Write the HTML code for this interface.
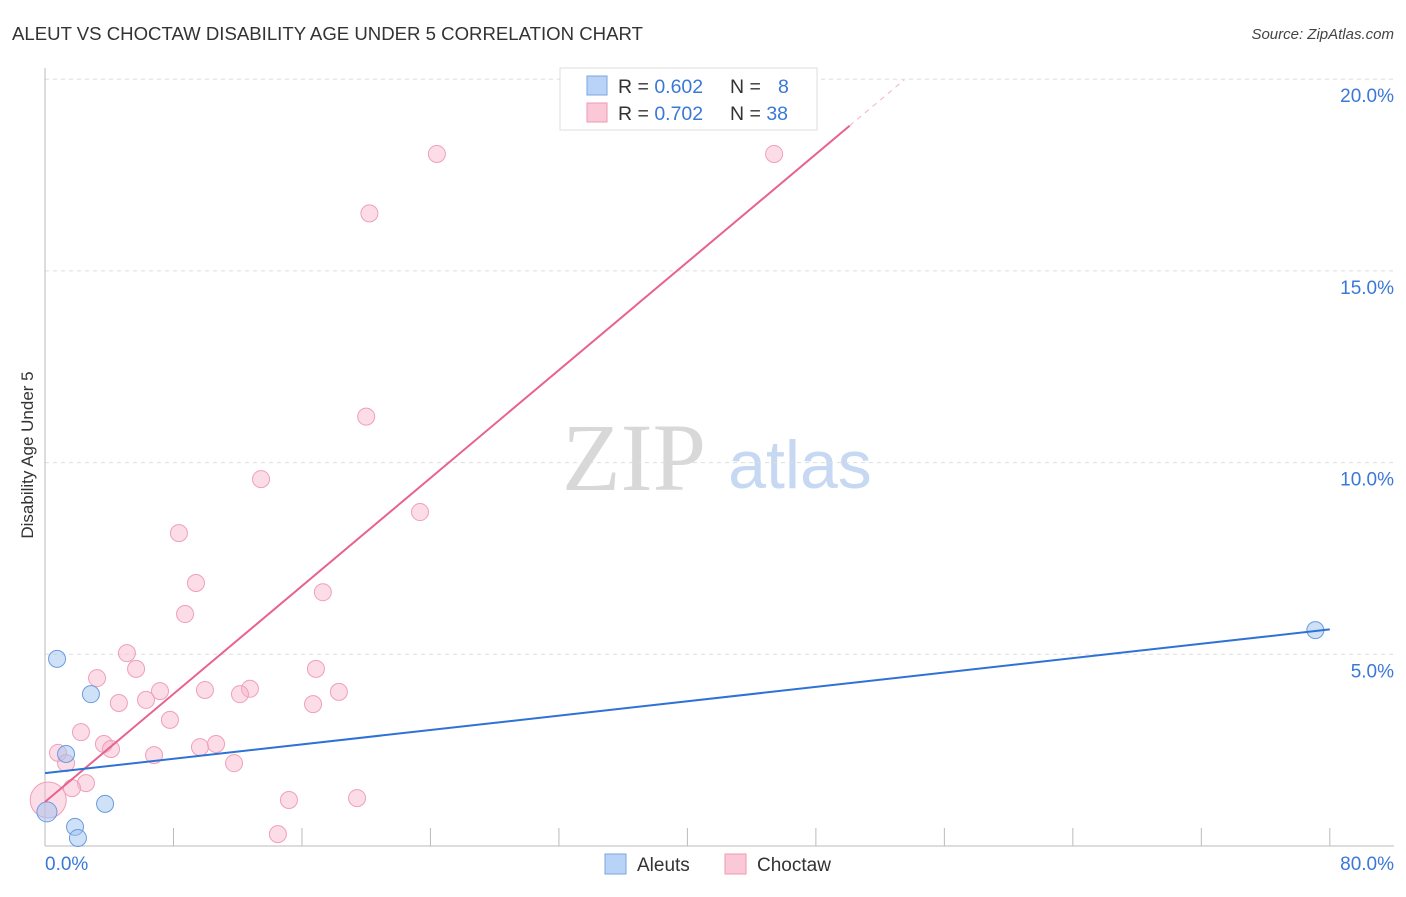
<!DOCTYPE html>
<html><head><meta charset="utf-8"><style>
body{margin:0;background:#fff;font-family:"Liberation Sans",sans-serif;}
</style></head><body>
<svg id="chart" width="1406" height="892" font-family="Liberation Sans, sans-serif">
<text x="12" y="40" font-size="18.6" fill="#333">ALEUT VS CHOCTAW DISABILITY AGE UNDER 5 CORRELATION CHART</text>
<text x="1394" y="39" font-size="15" fill="#444" text-anchor="end" font-style="italic">Source: ZipAtlas.com</text>
<text x="634" y="490" font-size="96" fill="#d8d8d8" style="font-family:'Liberation Serif',serif" text-anchor="middle">ZIP</text>
<text x="800" y="488" font-size="68" fill="#c6d8f2" text-anchor="middle">atlas</text>
<text transform="translate(33,455) rotate(-90)" font-size="17" fill="#333" text-anchor="middle">Disability Age Under 5</text>
<g id="grid"></g><g id="marks"></g>
<g>
<rect x="560" y="68" width="257" height="62" fill="#fff" stroke="#ddd"/>
<rect x="587" y="76" width="20" height="19" fill="#b8d3f5" stroke="#7aa6e0"/>
<rect x="587" y="103" width="20" height="19" fill="#fbc8d8" stroke="#ee9ab5"/>
<text x="618" y="93" font-size="19.5" fill="#333">R = <tspan fill="#3a78d8">0.602</tspan></text>
<text x="730" y="93" font-size="19.5" fill="#333">N = <tspan x="778" fill="#3a78d8">8</tspan></text>
<text x="618" y="120" font-size="19.5" fill="#333">R = <tspan fill="#3a78d8">0.702</tspan></text>
<text x="730" y="120" font-size="19.5" fill="#333">N = <tspan fill="#3a78d8">38</tspan></text>
</g>
<g>
<rect x="605" y="854" width="21" height="20" fill="#b8d3f5" stroke="#7aa6e0"/>
<text x="637" y="871" font-size="19" fill="#333">Aleuts</text>
<rect x="725" y="854" width="21" height="20" fill="#fbc8d8" stroke="#ee9ab5"/>
<text x="757" y="871" font-size="19" fill="#333">Choctaw</text>
</g>
</svg>
<script>
const yTicks=[5,10,15,20];
const xTickLabels=["0.0%","80.0%"];
const aleutX=[0.75,2.86,1.31,3.74,1.87,2.05,0.12,79.1];
const aleutY=[4.88,3.96,2.4,1.1,0.5,0.21,0.89,5.63];
const choctawX=[24.4,45.4,20.2,20.0,13.45,23.35,8.34,9.4,17.3,8.72,5.1,5.67,16.87,3.24,7.16,9.96,12.76,12.14,18.3,4.6,6.29,16.69,7.78,2.24,3.67,9.65,10.65,4.11,6.79,0.81,1.31,11.77,2.55,1.68,15.19,19.43,14.5,0.2];
const choctawY=[18.05,18.05,16.5,11.2,9.57,8.71,8.16,6.86,6.62,6.05,5.03,4.62,4.62,4.38,4.04,4.07,4.1,3.96,4.02,3.73,3.81,3.7,3.29,2.97,2.66,2.58,2.66,2.53,2.37,2.43,2.16,2.16,1.64,1.51,1.2,1.25,0.31,1.2];
const aleutLine=[1.9,5.65];
const choctawLine=[1.15,0.352];
const NS="http://www.w3.org/2000/svg";
const X=v=>45+v*16.06, Y=v=>846-v*38.34;
function mk(tag,attrs,parent){const e=document.createElementNS(NS,tag);for(const k in attrs)e.setAttribute(k,attrs[k]);parent.appendChild(e);return e;}
const g=document.getElementById('grid'),m=document.getElementById('marks');
yTicks.forEach(t=>{
 const l=mk('line',{x1:45,x2:1394,y1:Y(t),y2:Y(t),stroke:'#ddd','stroke-dasharray':'4,4'},g);
 
 
 const tx=mk('text',{x:1394,y:Y(t)+23,'font-size':19,fill:'#3a78d8','text-anchor':'end'},g);tx.textContent=t.toFixed(1)+'%';
 
 
});
const ax=mk('line',{x1:45,x2:45,y1:68,y2:846,stroke:'#bbb'},g);


const bx=mk('line',{x1:45,x2:1394,y1:846,y2:846,stroke:'#bbb'},g);


for(let i=1;i<=10;i++){const t=mk('line',{x1:X(i*8),x2:X(i*8),y1:828,y2:846,stroke:'#bbb'},g);
 
 }
[[0,'start',45],[80,'end',1394]].forEach((d,i)=>{const t=mk('text',{x:d[2],y:870,'font-size':19,fill:'#3a78d8','text-anchor':d[1]},g);t.textContent=xTickLabels[i];
 
 });
choctawX.forEach((x,i)=>{const c=mk('circle',{cx:X(x),cy:Y(choctawY[i]),r:i==37?18:8.5,fill:'rgba(248,180,202,0.45)',stroke:'#eea0b9','stroke-width':1},m);
 
 });
aleutX.forEach((x,i)=>{const c=mk('circle',{cx:X(x),cy:Y(aleutY[i]),r:i==6?10:8.5,fill:'rgba(160,195,240,0.5)',stroke:'#6a9be0','stroke-width':1},m);
 
 });
const pl=mk('line',{x1:X(0),y1:Y(choctawLine[0]),x2:X(50.1),y2:Y(choctawLine[0]+choctawLine[1]*50.1),stroke:'#e8628e','stroke-width':2},m);


const pd=mk('line',{x1:X(50.1),y1:Y(choctawLine[0]+choctawLine[1]*50.1),x2:X(53.5),y2:Y(choctawLine[0]+choctawLine[1]*53.5),stroke:'#e8628e','stroke-width':1,'stroke-dasharray':'5,5',opacity:0.5},m);


const bl=mk('line',{x1:X(0),y1:Y(aleutLine[0]),x2:X(80),y2:Y(aleutLine[1]),stroke:'#2f72d6','stroke-width':2},m);


</script>
</body></html>
